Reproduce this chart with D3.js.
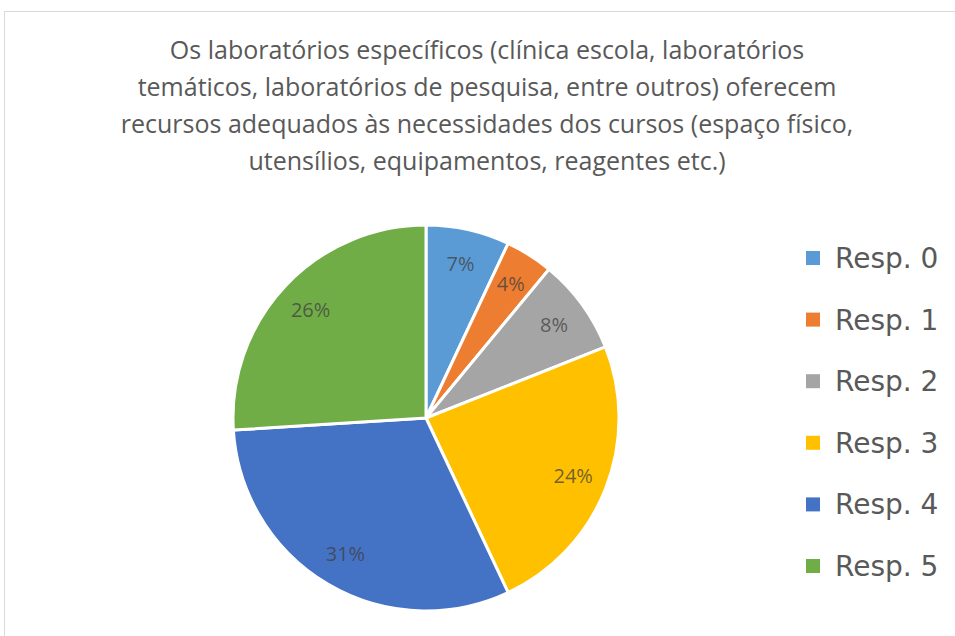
<!DOCTYPE html>
<html>
<head>
<meta charset="utf-8">
<script src="https://cdn.jsdelivr.net/npm/d3@7"></script>
<style>
  body { margin: 0; background: #fff; }
  svg { display: block; }
</style>
</head>
<body>
<svg width="955" height="636"></svg>
<script>
// Categories and values (percent)
var categories = ['Resp. 0', 'Resp. 1', 'Resp. 2', 'Resp. 3', 'Resp. 4', 'Resp. 5'];
var values = [7, 4, 8, 24, 31, 26];
var colors = ['#5B9BD5', '#ED7D31', '#A5A5A5', '#FFC000', '#4472C4', '#70AD47'];

var titleLines = [
  'Os laboratórios específicos (clínica escola, laboratórios',
  'temáticos, laboratórios de pesquisa, entre outros) oferecem',
  'recursos adequados às necessidades dos cursos (espaço físico,',
  'utensílios, equipamentos, reagentes etc.)'
];

var svg = d3.select('svg');

// chart frame
svg.append('rect')
    .attr('x', 4.5).attr('y', 11.5)
    .attr('width', 960).attr('height', 640)
    .attr('fill', '#fff')
    .attr('stroke', '#d9d9d9');

// title
svg.append('g').selectAll('text').data(titleLines)
  .enter().append('text')
    .attr('x', 487)
    .attr('y', (d, i) => 59 + i * 37)
    .attr('text-anchor', 'middle')
    .attr('font-family', 'Open Sans, sans-serif')
    .attr('font-size', 25)
    .attr('fill', '#595959')
    .text(d => d);

// pie
var cx = 426, cy = 418, r = 193;
var pie = d3.pie().sort(null).value(d => d);
var arc = d3.arc().innerRadius(0).outerRadius(r);
var labelArc = d3.arc().innerRadius(r * 0.82).outerRadius(r * 0.82);

var g = svg.append('g').attr('transform', 'translate(' + cx + ',' + cy + ')');
var slices = pie(values);

g.selectAll('path').data(slices)
  .enter().append('path')
    .attr('d', arc)
    .attr('fill', (d, i) => colors[i])
    .attr('stroke', '#fff')
    .attr('stroke-width', 3)
    .attr('stroke-linejoin', 'round');

g.selectAll('text.lbl').data(slices)
  .enter().append('text')
    .attr('class', 'lbl')
    .attr('transform', d => 'translate(' + labelArc.centroid(d) + ')')
    .attr('text-anchor', 'middle')
    .attr('dy', '0.35em')
    .attr('font-family', 'Open Sans, sans-serif')
    .attr('font-size', 20)
    .attr('fill', '#404040')
    .attr('fill-opacity', 0.75)
    .text(d => d.data + '%');

// legend
var legend = svg.append('g').selectAll('g').data(categories)
  .enter().append('g')
    .attr('transform', (d, i) => 'translate(806,' + (258 + i * 61.6) + ')');

legend.append('rect')
    .attr('x', 0).attr('y', -7)
    .attr('width', 14).attr('height', 14)
    .attr('fill', (d, i) => colors[i]);

legend.append('text')
    .attr('x', 29)
    .attr('dy', '0.36em')
    .attr('font-family', 'DejaVu Sans, sans-serif')
    .attr('font-size', 28)
    .attr('fill', '#595959')
    .text(d => d);
</script>
</body>
</html>
